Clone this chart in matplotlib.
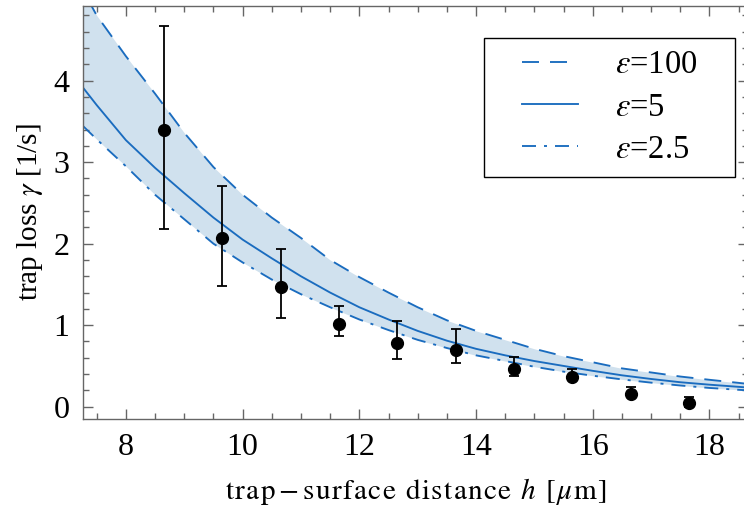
import matplotlib
matplotlib.use('Agg')
import matplotlib.pyplot as plt
from matplotlib.ticker import MultipleLocator
from matplotlib.lines import Line2D
from matplotlib.legend_handler import HandlerLine2D

plt.rcParams['font.family'] = ['Liberation Serif', 'DejaVu Serif']
plt.rcParams['mathtext.fontset'] = 'stix'
plt.rcParams['lines.scale_dashes'] = False

# measured data
h_meas = [8.65, 9.65, 10.65, 11.65, 12.65, 13.65, 14.65, 15.65, 16.65, 17.65]
gamma_meas = [3.40, 2.07, 1.47, 1.02, 0.785, 0.70, 0.46, 0.36, 0.155, 0.04]
gamma_low = [2.18, 1.48, 1.09, 0.87, 0.58, 0.53, 0.375, 0.33, 0.12, 0.00]
gamma_high = [4.675, 2.71, 1.93, 1.235, 1.055, 0.95, 0.605, 0.46, 0.245, 0.115]

# theory curves
h_curve = [7.27, 7.5, 8.0, 8.5, 9.0, 9.5, 10.0, 10.5, 11.0, 11.5, 12.0, 12.5,
           13.0, 13.5, 14.0, 14.5, 15.0, 15.5, 16.0, 16.5, 17.0, 17.5, 18.0, 18.66]
gamma_eps100 = [5.10, 4.80, 4.30, 3.84, 3.36, 2.94, 2.60, 2.32, 2.07, 1.80, 1.59, 1.40,
                1.22, 1.06, 0.93, 0.82, 0.71, 0.62, 0.545, 0.47, 0.42, 0.37, 0.33, 0.28]
gamma_eps5 = [3.91, 3.70, 3.27, 2.93, 2.62, 2.32, 2.05, 1.82, 1.60, 1.40, 1.22, 1.07,
              0.93, 0.81, 0.71, 0.63, 0.56, 0.50, 0.44, 0.385, 0.34, 0.30, 0.27, 0.235]
gamma_eps25 = [3.44, 3.28, 2.95, 2.60, 2.30, 2.00, 1.77, 1.56, 1.38, 1.22, 1.07, 0.94,
               0.82, 0.72, 0.63, 0.56, 0.49, 0.43, 0.38, 0.335, 0.295, 0.26, 0.23, 0.20]
labels = [r'$\varepsilon$=100', r'$\varepsilon$=5', r'$\varepsilon$=2.5']

line_col = '#1a6cbf'
fill_col = '#d0e1ee'
frame_col = '#666666'


def spaced_label(tokens, sp=0.07):
    return '$' + (r'\hspace{%g}' % sp).join(tokens) + '$'


xlabel_tokens = [r'\mathrm{t}', r'\mathrm{r}', r'\mathrm{a}', r'\mathrm{p}',
                 r'\hspace{-0.09}-\hspace{-0.09}',
                 r'\mathrm{s}', r'\mathrm{u}', r'\mathrm{r}', r'\mathrm{f}', r'\mathrm{a}',
                 r'\mathrm{c}', r'\mathrm{e}', r'\ ', r'\mathrm{d}', r'\mathrm{i}',
                 r'\mathrm{s}', r'\mathrm{t}', r'\mathrm{a}', r'\mathrm{n}', r'\mathrm{c}',
                 r'\mathrm{e}', r'\ ', 'h', r'\ ', r'\mathrm{[}', r'\mu', r'\mathrm{m}',
                 r'\mathrm{]}']

fig = plt.figure(figsize=(7.44, 5.16), dpi=100)
ax = fig.add_axes([83.3 / 744, 1 - 419 / 516, (748 - 83.3) / 744, 413 / 516])

ax.fill_between(h_curve, gamma_eps25, gamma_eps100, color=fill_col, lw=0)
px = 0.72
lw = 1.35
ax.plot(h_curve, gamma_eps100, color=line_col, lw=lw, dashes=(17 * px, 11 * px), label=labels[0])
ax.plot(h_curve, gamma_eps5, color=line_col, lw=lw, label=labels[1])
ax.plot(h_curve, gamma_eps25, color=line_col, lw=lw,
        dashes=(14 * px, 8 * px, 3 * px, 8 * px), label=labels[2])

yerr = [[g - l for g, l in zip(gamma_meas, gamma_low)],
        [h - g for g, h in zip(gamma_meas, gamma_high)]]
ax.errorbar(h_meas, gamma_meas, yerr=yerr, fmt='o', color='black', ms=8.5,
            elinewidth=1.3, capsize=3.5, capthick=1.3, zorder=5)

ax.set_xlim(7.27, 18.66)
ax.set_ylim(-0.151, 4.916)
ax.xaxis.set_major_locator(MultipleLocator(2))
ax.xaxis.set_minor_locator(MultipleLocator(0.5))
ax.yaxis.set_major_locator(MultipleLocator(1))
ax.yaxis.set_minor_locator(MultipleLocator(0.2))
ax.tick_params(which='both', direction='in', top=True, right=True, color=frame_col,
               labelsize=23, width=1.0)
ax.tick_params(which='major', length=7, pad=10)
ax.tick_params(which='minor', length=4)
for s in ax.spines.values():
    s.set_color(frame_col)
    s.set_linewidth(1.0)

ax.set_xlabel(spaced_label(xlabel_tokens), fontsize=21, labelpad=10)
ax.set_ylabel(r'trap loss $\gamma$ [1/s]', fontsize=21, labelpad=6)

x0 = (484 - 83.3) / 664.7
w = (735 - 484) / 664.7
ytop = (419 - 38) / 413
hgt = (176 - 38) / 413
leg = ax.legend(loc='upper left', bbox_to_anchor=(x0, ytop - hgt, w, hgt), mode='expand',
                fontsize=23.5, frameon=True, fancybox=False, edgecolor='black',
                framealpha=1, borderpad=0.36, handlelength=2.53, handletextpad=1.135,
                labelspacing=0.36, borderaxespad=0,
                handler_map={Line2D: HandlerLine2D(xpad=0.8)})
leg.get_frame().set_linewidth(1.0)

fig.savefig('out.png', dpi=100)
